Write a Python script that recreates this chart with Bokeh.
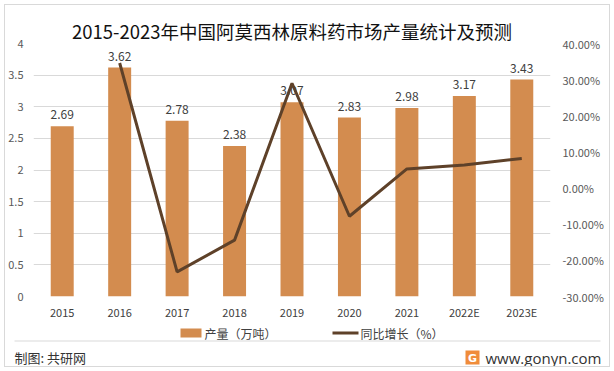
from bokeh.plotting import figure
from bokeh.layouts import column
from bokeh.models import (FactorRange, Range1d, LinearAxis, NumeralTickFormatter, FixedTicker,
                          ColumnDataSource)
from bokeh.core.properties import value
from bokeh.embed import file_html
from bokeh.resources import INLINE

# ---- data ----
years = ["2015", "2016", "2017", "2018", "2019", "2020", "2021", "2022E", "2023E"]
output = [2.69, 3.62, 2.78, 2.38, 3.07, 2.83, 2.98, 3.17, 3.43]
output_labels = ["2.69", "3.62", "2.78", "2.38", "3.07", "2.83", "2.98", "3.17", "3.43"]
growth_years = ["2016", "2017", "2018", "2019", "2020", "2021", "2022E", "2023E"]
growth = [0.346, -0.232, -0.144, 0.290, -0.078, 0.053, 0.064, 0.082]
left_ticks = [0, 0.5, 1, 1.5, 2, 2.5, 3, 3.5, 4]
right_ticks = [-0.3, -0.2, -0.1, 0.0, 0.1, 0.2, 0.3, 0.4]

TITLE = "2015-2023年中国阿莫西林原料药市场产量统计及预测"
BAR_LABEL = "产量（万吨）"
LINE_LABEL = "同比增长（%）"
SOURCE = "制图: 共研网"
SITE = "www.gonyn.com"

BAR_COLOR = "#D38C4F"
LINE_COLOR = "#5E4129"
GRID = "#D9D9D9"
TICK_COLOR = "#595959"
TEXT = "#404040"
CJK = "Noto Sans CJK SC"

CW = 604          # content width (inside border)
MAIN_H = 320
FOOT_H = 41

p = figure(width=CW, height=MAIN_H, x_range=FactorRange(*years, range_padding=0),
           y_range=Range1d(0, 4), output_backend="svg", toolbar_location=None,
           min_border_left=27, min_border_right=59, min_border_top=38, min_border_bottom=29,
           title=TITLE)
p.extra_y_ranges = {"pct": Range1d(-0.3, 0.4)}
p.frame_align = False

p.title.text_font = CJK
p.title.text_font_size = "18.5px"
p.title.text_font_style = "normal"
p.title.text_color = "#111111"
p.title.align = "center"
p.title.standoff = 0

src = ColumnDataSource(dict(x=years, top=output, lab=output_labels))
bars = p.vbar(x="x", top="top", width=0.4, source=src, fill_color=BAR_COLOR, line_color=None)
p.text(x="x", y="top", text="lab", source=src, text_align="center", text_baseline="bottom",
       y_offset=-7, text_font=value(CJK), text_font_size="12px", text_color=TEXT)

lsrc = ColumnDataSource(dict(x=growth_years, y=growth))
line = p.line(x="x", y="y", source=lsrc, y_range_name="pct", line_color=LINE_COLOR, line_width=3)

# axes
p.yaxis.ticker = FixedTicker(ticks=left_ticks)
p.yaxis.formatter = NumeralTickFormatter(format="0.[0]")
right = LinearAxis(y_range_name="pct", ticker=FixedTicker(ticks=right_ticks),
                   formatter=NumeralTickFormatter(format="0.00%"))
p.add_layout(right, "right")
for ax in [p.yaxis[0], right, p.xaxis[0]]:
    ax.axis_line_color = None
    ax.major_tick_line_color = None
    ax.minor_tick_line_color = None
    ax.major_tick_out = 0
    ax.major_tick_in = 0
    ax.minor_tick_out = 0
    ax.major_label_text_color = TICK_COLOR
    ax.major_label_text_font = CJK
    ax.major_label_text_font_size = "11px"
p.yaxis[0].major_label_standoff = 10
right.major_label_standoff = 12
p.xaxis[0].major_label_standoff = 7
p.xaxis[0].major_label_text_color = TEXT

p.xgrid.grid_line_color = None
p.ygrid.grid_line_color = GRID
p.ygrid.ticker = FixedTicker(ticks=left_ticks)
p.outline_line_color = None

# ---- footer: legend, separator, source (coordinates = page pixels) ----
f = figure(width=CW, height=FOOT_H, x_range=Range1d(5, 5 + CW), y_range=Range1d(366, 366 - FOOT_H),
           output_backend="svg", toolbar_location=None, min_border=0,
           x_axis_location=None, y_axis_location=None)
f.frame_align = False
f.grid.visible = False
f.outline_line_color = None

# legend
f.quad(left=[180], right=[201], top=[328], bottom=[337], fill_color=BAR_COLOR, line_color=None)
f.text(x=[204], y=[333], text=[BAR_LABEL], text_align="left", text_baseline="middle",
       text_font=value(CJK), text_font_size="12px", text_color=TEXT)
f.line(x=[332, 358], y=[332.5, 332.5], line_color=LINE_COLOR, line_width=3)
f.text(x=[360], y=[333], text=[LINE_LABEL], text_align="left", text_baseline="middle",
       text_font=value(CJK), text_font_size="12px", text_color=TEXT)
# separator
f.line(x=[14, 600], y=[340.5, 340.5], line_color=GRID, line_width=1.2)
# source
f.text(x=[14], y=[357], text=[SOURCE], text_align="left", text_baseline="middle",
       text_font=value(CJK), text_font_size="13px", text_color="#333333")
f.quad(left=[465], right=[479], top=[350], bottom=[364], fill_color="#F08C3A", line_color=None)
f.text(x=[472], y=[357.5], text=["G"], text_align="center", text_baseline="middle",
       text_font=value("DejaVu Sans"), text_font_style="bold", text_font_size="11px",
       text_color="white")
f.text(x=[485], y=[357], text=[SITE], text_align="left", text_baseline="middle",
       text_font=value("Open Sans"), text_font_size="15px", text_color="#333333")

layout = column(p, f, spacing=0, margin=(4, 0, 0, 4),
                styles={"border": "1px solid #D9D9D9"})

open("out.html", "w").write(file_html(layout, INLINE))
